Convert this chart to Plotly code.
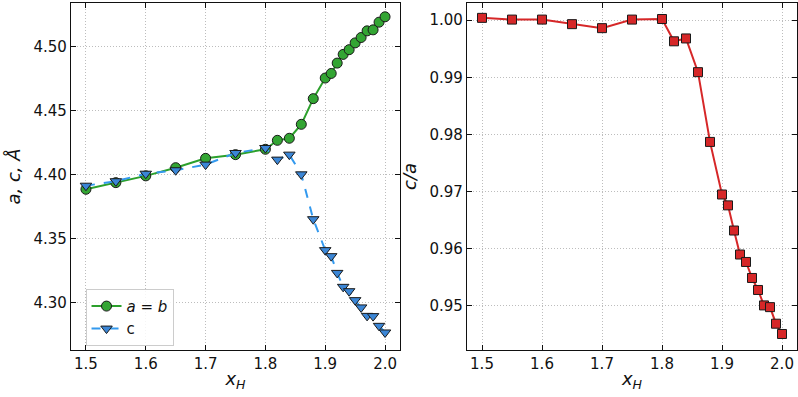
import plotly.graph_objects as go
from plotly.subplots import make_subplots

x_ab = [1.50, 1.55, 1.60, 1.65, 1.70, 1.75, 1.80, 1.82, 1.84, 1.86, 1.88, 1.90, 1.91,
        1.92, 1.93, 1.94, 1.95, 1.96, 1.97, 1.98, 1.99, 2.00]
a_vals = [4.3885, 4.3937, 4.3990, 4.4054, 4.4127, 4.4156, 4.4198, 4.4268, 4.4284, 4.4393,
          4.4594, 4.4755, 4.4791, 4.4872, 4.4940, 4.4977, 4.5030, 4.5072, 4.5124, 4.5132,
          4.5192, 4.5234]
c_vals = [4.3913, 4.3948, 4.4007, 4.4034, 4.4078, 4.4169, 4.4208, 4.4117, 4.4156, 4.4002,
          4.3651, 4.3409, 4.3362, 4.3231, 4.3122, 4.3088, 4.3018, 4.2961, 4.2895, 4.2893,
          4.2817, 4.2765]
ca_vals = [1.0004, 1.0001, 1.0001, 0.9993, 0.9986, 1.0001, 1.0002, 0.9963, 0.9968, 0.9909,
           0.9787, 0.9695, 0.9676, 0.9632, 0.9590, 0.9577, 0.9549, 0.9528, 0.9501, 0.9498,
           0.9469, 0.9451]
x_ticks = [1.5, 1.6, 1.7, 1.8, 1.9, 2.0]
left_y_ticks = [4.30, 4.35, 4.40, 4.45, 4.50]
right_y_ticks = [0.95, 0.96, 0.97, 0.98, 0.99, 1.00]

W, H = 798, 397
ML, MR, MT, MB = 71, 1, 3, 47
pw = W - ML - MR

fig = make_subplots(rows=1, cols=2)

fig.add_trace(go.Scatter(
    x=x_ab, y=a_vals, mode="lines+markers", name="<i>a</i> = <i>b</i>",
    line=dict(color="#2ca02c", width=2),
    marker=dict(symbol="circle", size=10, color="#33a533", line=dict(color="#1a1a1a", width=1)),
), row=1, col=1)
fig.add_trace(go.Scatter(
    x=x_ab, y=c_vals, mode="lines+markers", name="c",
    line=dict(color="#3399ee", width=2, dash="dash"),
    marker=dict(symbol="triangle-down", size=10, color="#3b86d6", line=dict(color="#1a1a1a", width=1)),
), row=1, col=1)
fig.add_trace(go.Scatter(
    x=x_ab, y=ca_vals, mode="lines+markers", name="c/a", showlegend=False,
    line=dict(color="#d62728", width=2),
    marker=dict(symbol="square", size=9, color="#d62728", line=dict(color="#1a1a1a", width=1)),
), row=1, col=2)

font = dict(family="DejaVu Sans", size=15, color="#111")
title_font = dict(family="DejaVu Sans", size=18, color="#111")
axis_common = dict(
    showline=True, linecolor="#111", linewidth=1.2, mirror="allticks",
    ticks="inside", ticklen=5, tickcolor="#111", tickwidth=1,
    showgrid=True, gridcolor="#bdbdbd", griddash="1px,2px", gridwidth=1,
    zeroline=False, tickfont=font, automargin=False,
)

fig.update_xaxes(**axis_common, range=[1.475, 2.025], tickvals=x_ticks, tickformat=".1f",
                 title=dict(text="<i>x</i><sub><i>H</i></sub>", font=title_font, standoff=0))
fig.update_xaxes(domain=[0, 329 / pw], row=1, col=1)
fig.update_xaxes(domain=[396 / pw, 1], row=1, col=2)

fig.update_yaxes(**axis_common, tickformat=".2f")
fig.update_yaxes(range=[4.2628, 4.5342], tickvals=left_y_ticks,
                 title=dict(text="<i>a, c, Å</i>", font=title_font, standoff=8),
                 row=1, col=1)
fig.update_yaxes(range=[0.9423, 1.0030], tickvals=right_y_ticks,
                 title=dict(text="<i>c/a</i>", font=title_font, standoff=8),
                 row=1, col=2)

fig.update_layout(
    width=W, height=H,
    margin=dict(l=ML, r=MR, t=MT, b=MB, autoexpand=False),
    paper_bgcolor="white", plot_bgcolor="white",
    font=font,
    showlegend=True,
    legend=dict(x=0.02, y=0.012, xanchor="left", yanchor="bottom",
                bgcolor="rgba(255,255,255,0.85)", bordercolor="#cccccc", borderwidth=1,
                font=dict(family="DejaVu Sans", size=15, color="#111"),
                tracegroupgap=0, itemwidth=30),
)

fig.write_html("out.html", config={"displayModeBar": False},
               post_script="document.body.style.margin='0';document.body.style.overflow='hidden';")
